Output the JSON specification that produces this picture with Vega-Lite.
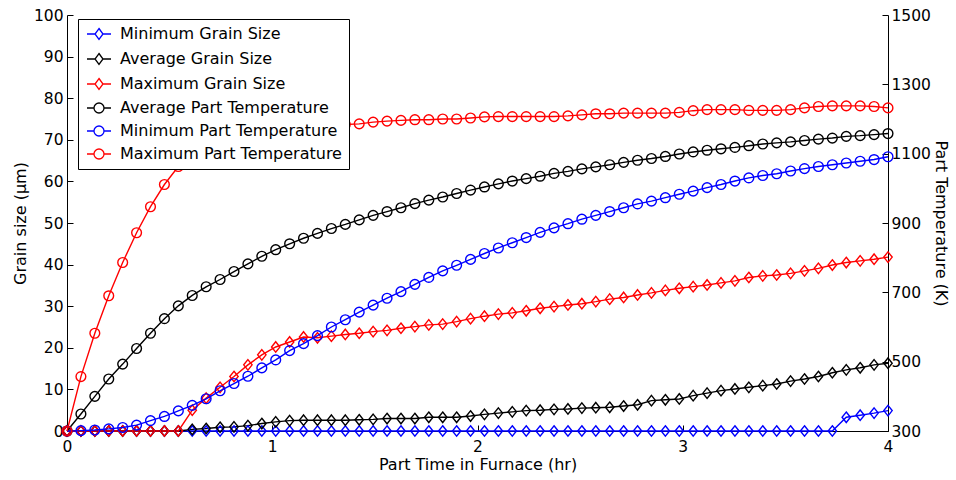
{
  "$schema": "https://vega.github.io/schema/vega-lite/v6.json",
  "width": 821,
  "height": 416,
  "autosize": {"type": "none"},
  "padding": {"left": 67, "top": 15, "right": 68, "bottom": 49},
  "background": "white",
  "config": {
    "view": {"stroke": null},
    "font": "DejaVu Sans",
    "axis": {
      "grid": false,
      "domainColor": "black",
      "tickColor": "black",
      "labelColor": "black",
      "titleColor": "black",
      "labelFont": "DejaVu Sans",
      "titleFont": "DejaVu Sans",
      "labelFontSize": 15.5,
      "titleFontSize": 16,
      "titleFontWeight": "normal",
      "tickSize": -6,
      "domainWidth": 1,
      "tickWidth": 1,
      "labelFlush": false
    }
  },
  "data": {
    "values": [
      {"t": 0, "Minimum Grain Size": 0, "Average Grain Size": 0, "Maximum Grain Size": 0, "Average Part Temperature": 300, "Minimum Part Temperature": 300, "Maximum Part Temperature": 300},
      {"t": 0.0678, "Minimum Grain Size": 0, "Average Grain Size": 0, "Maximum Grain Size": 0, "Average Part Temperature": 349, "Minimum Part Temperature": 301, "Maximum Part Temperature": 457},
      {"t": 0.1356, "Minimum Grain Size": 0, "Average Grain Size": 0, "Maximum Grain Size": 0, "Average Part Temperature": 400, "Minimum Part Temperature": 303, "Maximum Part Temperature": 582},
      {"t": 0.2034, "Minimum Grain Size": 0, "Average Grain Size": 0, "Maximum Grain Size": 0, "Average Part Temperature": 450, "Minimum Part Temperature": 306, "Maximum Part Temperature": 690},
      {"t": 0.2712, "Minimum Grain Size": 0, "Average Grain Size": 0, "Maximum Grain Size": 0, "Average Part Temperature": 493, "Minimum Part Temperature": 310, "Maximum Part Temperature": 786},
      {"t": 0.339, "Minimum Grain Size": 0, "Average Grain Size": 0, "Maximum Grain Size": 0, "Average Part Temperature": 538, "Minimum Part Temperature": 317, "Maximum Part Temperature": 872},
      {"t": 0.4068, "Minimum Grain Size": 0, "Average Grain Size": 0, "Maximum Grain Size": 0, "Average Part Temperature": 582, "Minimum Part Temperature": 330, "Maximum Part Temperature": 947},
      {"t": 0.4746, "Minimum Grain Size": 0, "Average Grain Size": 0, "Maximum Grain Size": 0, "Average Part Temperature": 624, "Minimum Part Temperature": 342, "Maximum Part Temperature": 1011},
      {"t": 0.5424, "Minimum Grain Size": 0, "Average Grain Size": 0, "Maximum Grain Size": 0, "Average Part Temperature": 661, "Minimum Part Temperature": 358, "Maximum Part Temperature": 1063},
      {"t": 0.6102, "Minimum Grain Size": 0, "Average Grain Size": 0.4, "Maximum Grain Size": 5.0, "Average Part Temperature": 691, "Minimum Part Temperature": 374, "Maximum Part Temperature": 1100},
      {"t": 0.678, "Minimum Grain Size": 0, "Average Grain Size": 0.6, "Maximum Grain Size": 7.9, "Average Part Temperature": 716, "Minimum Part Temperature": 393, "Maximum Part Temperature": 1128},
      {"t": 0.7458, "Minimum Grain Size": 0, "Average Grain Size": 0.9, "Maximum Grain Size": 10.5, "Average Part Temperature": 737, "Minimum Part Temperature": 416, "Maximum Part Temperature": 1148},
      {"t": 0.8136, "Minimum Grain Size": 0, "Average Grain Size": 1.0, "Maximum Grain Size": 13.1, "Average Part Temperature": 760, "Minimum Part Temperature": 437, "Maximum Part Temperature": 1162},
      {"t": 0.8814, "Minimum Grain Size": 0, "Average Grain Size": 1.3, "Maximum Grain Size": 15.9, "Average Part Temperature": 782, "Minimum Part Temperature": 458, "Maximum Part Temperature": 1170},
      {"t": 0.9492, "Minimum Grain Size": 0, "Average Grain Size": 1.8, "Maximum Grain Size": 18.3, "Average Part Temperature": 804, "Minimum Part Temperature": 482, "Maximum Part Temperature": 1175},
      {"t": 1.0169, "Minimum Grain Size": 0, "Average Grain Size": 2.2, "Maximum Grain Size": 20.2, "Average Part Temperature": 823, "Minimum Part Temperature": 505, "Maximum Part Temperature": 1178},
      {"t": 1.0847, "Minimum Grain Size": 0, "Average Grain Size": 2.5, "Maximum Grain Size": 21.4, "Average Part Temperature": 840, "Minimum Part Temperature": 532, "Maximum Part Temperature": 1180},
      {"t": 1.1525, "Minimum Grain Size": 0, "Average Grain Size": 2.6, "Maximum Grain Size": 22.6, "Average Part Temperature": 856, "Minimum Part Temperature": 552, "Maximum Part Temperature": 1181},
      {"t": 1.2203, "Minimum Grain Size": 0, "Average Grain Size": 2.6, "Maximum Grain Size": 22.4, "Average Part Temperature": 870, "Minimum Part Temperature": 575, "Maximum Part Temperature": 1182},
      {"t": 1.2881, "Minimum Grain Size": 0, "Average Grain Size": 2.6, "Maximum Grain Size": 22.8, "Average Part Temperature": 884, "Minimum Part Temperature": 600, "Maximum Part Temperature": 1183},
      {"t": 1.3559, "Minimum Grain Size": 0, "Average Grain Size": 2.6, "Maximum Grain Size": 23.2, "Average Part Temperature": 896, "Minimum Part Temperature": 621, "Maximum Part Temperature": 1184},
      {"t": 1.4237, "Minimum Grain Size": 0, "Average Grain Size": 2.7, "Maximum Grain Size": 23.5, "Average Part Temperature": 909, "Minimum Part Temperature": 643, "Maximum Part Temperature": 1186},
      {"t": 1.4915, "Minimum Grain Size": 0, "Average Grain Size": 2.8, "Maximum Grain Size": 23.9, "Average Part Temperature": 922, "Minimum Part Temperature": 663, "Maximum Part Temperature": 1191},
      {"t": 1.5593, "Minimum Grain Size": 0, "Average Grain Size": 3.0, "Maximum Grain Size": 24.2, "Average Part Temperature": 933, "Minimum Part Temperature": 683, "Maximum Part Temperature": 1194},
      {"t": 1.6271, "Minimum Grain Size": 0, "Average Grain Size": 3.0, "Maximum Grain Size": 24.7, "Average Part Temperature": 944, "Minimum Part Temperature": 702, "Maximum Part Temperature": 1196},
      {"t": 1.6949, "Minimum Grain Size": 0, "Average Grain Size": 3.0, "Maximum Grain Size": 25.1, "Average Part Temperature": 956, "Minimum Part Temperature": 723, "Maximum Part Temperature": 1198},
      {"t": 1.7627, "Minimum Grain Size": 0, "Average Grain Size": 3.3, "Maximum Grain Size": 25.5, "Average Part Temperature": 966, "Minimum Part Temperature": 743, "Maximum Part Temperature": 1198},
      {"t": 1.8305, "Minimum Grain Size": 0, "Average Grain Size": 3.3, "Maximum Grain Size": 25.7, "Average Part Temperature": 975, "Minimum Part Temperature": 762, "Maximum Part Temperature": 1200},
      {"t": 1.8983, "Minimum Grain Size": 0, "Average Grain Size": 3.3, "Maximum Grain Size": 26.3, "Average Part Temperature": 985, "Minimum Part Temperature": 778, "Maximum Part Temperature": 1200},
      {"t": 1.9661, "Minimum Grain Size": 0, "Average Grain Size": 3.6, "Maximum Grain Size": 27.0, "Average Part Temperature": 995, "Minimum Part Temperature": 795, "Maximum Part Temperature": 1203},
      {"t": 2.0339, "Minimum Grain Size": 0, "Average Grain Size": 4.0, "Maximum Grain Size": 27.6, "Average Part Temperature": 1004, "Minimum Part Temperature": 812, "Maximum Part Temperature": 1206},
      {"t": 2.1017, "Minimum Grain Size": 0, "Average Grain Size": 4.3, "Maximum Grain Size": 28.1, "Average Part Temperature": 1013, "Minimum Part Temperature": 828, "Maximum Part Temperature": 1207},
      {"t": 2.1695, "Minimum Grain Size": 0, "Average Grain Size": 4.6, "Maximum Grain Size": 28.4, "Average Part Temperature": 1021, "Minimum Part Temperature": 843, "Maximum Part Temperature": 1207},
      {"t": 2.2373, "Minimum Grain Size": 0, "Average Grain Size": 4.9, "Maximum Grain Size": 28.9, "Average Part Temperature": 1028, "Minimum Part Temperature": 858, "Maximum Part Temperature": 1207},
      {"t": 2.3051, "Minimum Grain Size": 0, "Average Grain Size": 5.0, "Maximum Grain Size": 29.5, "Average Part Temperature": 1035, "Minimum Part Temperature": 873, "Maximum Part Temperature": 1207},
      {"t": 2.3729, "Minimum Grain Size": 0, "Average Grain Size": 5.2, "Maximum Grain Size": 29.9, "Average Part Temperature": 1043, "Minimum Part Temperature": 886, "Maximum Part Temperature": 1207},
      {"t": 2.4407, "Minimum Grain Size": 0, "Average Grain Size": 5.3, "Maximum Grain Size": 30.3, "Average Part Temperature": 1049, "Minimum Part Temperature": 898, "Maximum Part Temperature": 1209},
      {"t": 2.5085, "Minimum Grain Size": 0, "Average Grain Size": 5.5, "Maximum Grain Size": 30.6, "Average Part Temperature": 1056, "Minimum Part Temperature": 911, "Maximum Part Temperature": 1212},
      {"t": 2.5763, "Minimum Grain Size": 0, "Average Grain Size": 5.6, "Maximum Grain Size": 31.1, "Average Part Temperature": 1062, "Minimum Part Temperature": 922, "Maximum Part Temperature": 1215},
      {"t": 2.6441, "Minimum Grain Size": 0, "Average Grain Size": 5.7, "Maximum Grain Size": 31.7, "Average Part Temperature": 1068, "Minimum Part Temperature": 933, "Maximum Part Temperature": 1215},
      {"t": 2.7119, "Minimum Grain Size": 0, "Average Grain Size": 6.0, "Maximum Grain Size": 32.1, "Average Part Temperature": 1075, "Minimum Part Temperature": 944, "Maximum Part Temperature": 1217},
      {"t": 2.7797, "Minimum Grain Size": 0, "Average Grain Size": 6.3, "Maximum Grain Size": 32.7, "Average Part Temperature": 1081, "Minimum Part Temperature": 955, "Maximum Part Temperature": 1217},
      {"t": 2.8475, "Minimum Grain Size": 0, "Average Grain Size": 7.3, "Maximum Grain Size": 33.2, "Average Part Temperature": 1086, "Minimum Part Temperature": 963, "Maximum Part Temperature": 1217},
      {"t": 2.9153, "Minimum Grain Size": 0, "Average Grain Size": 7.5, "Maximum Grain Size": 33.8, "Average Part Temperature": 1092, "Minimum Part Temperature": 973, "Maximum Part Temperature": 1217},
      {"t": 2.9831, "Minimum Grain Size": 0, "Average Grain Size": 7.7, "Maximum Grain Size": 34.3, "Average Part Temperature": 1099, "Minimum Part Temperature": 983, "Maximum Part Temperature": 1219},
      {"t": 3.0508, "Minimum Grain Size": 0, "Average Grain Size": 8.5, "Maximum Grain Size": 34.7, "Average Part Temperature": 1105, "Minimum Part Temperature": 992, "Maximum Part Temperature": 1224},
      {"t": 3.1186, "Minimum Grain Size": 0, "Average Grain Size": 9.1, "Maximum Grain Size": 35.1, "Average Part Temperature": 1110, "Minimum Part Temperature": 1002, "Maximum Part Temperature": 1227},
      {"t": 3.1864, "Minimum Grain Size": 0, "Average Grain Size": 9.7, "Maximum Grain Size": 35.6, "Average Part Temperature": 1114, "Minimum Part Temperature": 1011, "Maximum Part Temperature": 1227},
      {"t": 3.2542, "Minimum Grain Size": 0, "Average Grain Size": 10.1, "Maximum Grain Size": 36.1, "Average Part Temperature": 1118, "Minimum Part Temperature": 1021, "Maximum Part Temperature": 1227},
      {"t": 3.322, "Minimum Grain Size": 0, "Average Grain Size": 10.5, "Maximum Grain Size": 36.9, "Average Part Temperature": 1123, "Minimum Part Temperature": 1030, "Maximum Part Temperature": 1225},
      {"t": 3.3898, "Minimum Grain Size": 0, "Average Grain Size": 10.9, "Maximum Grain Size": 37.3, "Average Part Temperature": 1128, "Minimum Part Temperature": 1037, "Maximum Part Temperature": 1225},
      {"t": 3.4576, "Minimum Grain Size": 0, "Average Grain Size": 11.3, "Maximum Grain Size": 37.5, "Average Part Temperature": 1131, "Minimum Part Temperature": 1042, "Maximum Part Temperature": 1225},
      {"t": 3.5254, "Minimum Grain Size": 0, "Average Grain Size": 12.0, "Maximum Grain Size": 37.9, "Average Part Temperature": 1134, "Minimum Part Temperature": 1050, "Maximum Part Temperature": 1227},
      {"t": 3.5932, "Minimum Grain Size": 0, "Average Grain Size": 12.5, "Maximum Grain Size": 38.5, "Average Part Temperature": 1138, "Minimum Part Temperature": 1057, "Maximum Part Temperature": 1232},
      {"t": 3.661, "Minimum Grain Size": 0, "Average Grain Size": 13.1, "Maximum Grain Size": 39.1, "Average Part Temperature": 1142, "Minimum Part Temperature": 1063, "Maximum Part Temperature": 1236},
      {"t": 3.7288, "Minimum Grain Size": 0, "Average Grain Size": 14.0, "Maximum Grain Size": 39.9, "Average Part Temperature": 1145, "Minimum Part Temperature": 1068, "Maximum Part Temperature": 1238},
      {"t": 3.7966, "Minimum Grain Size": 3.3, "Average Grain Size": 14.7, "Maximum Grain Size": 40.5, "Average Part Temperature": 1150, "Minimum Part Temperature": 1073, "Maximum Part Temperature": 1238},
      {"t": 3.8644, "Minimum Grain Size": 3.8, "Average Grain Size": 15.2, "Maximum Grain Size": 40.9, "Average Part Temperature": 1152, "Minimum Part Temperature": 1078, "Maximum Part Temperature": 1238},
      {"t": 3.9322, "Minimum Grain Size": 4.3, "Average Grain Size": 15.9, "Maximum Grain Size": 41.3, "Average Part Temperature": 1155, "Minimum Part Temperature": 1083, "Maximum Part Temperature": 1236},
      {"t": 4.0, "Minimum Grain Size": 4.9, "Average Grain Size": 16.3, "Maximum Grain Size": 41.8, "Average Part Temperature": 1158, "Minimum Part Temperature": 1091, "Maximum Part Temperature": 1232}
    ]
  },
  "encoding": {
    "x": {
      "field": "t",
      "type": "quantitative",
      "scale": {"domain": [0, 4], "nice": false},
      "axis": {
        "title": "Part Time in Furnace (hr)",
        "values": [0, 1, 2, 3, 4],
        "format": "d",
        "labelPadding": 14,
        "titlePadding": 2
      }
    },
    "color": {
      "field": "series",
      "type": "nominal",
      "scale": {
        "domain": ["Minimum Grain Size", "Average Grain Size", "Maximum Grain Size", "Average Part Temperature", "Minimum Part Temperature", "Maximum Part Temperature"],
        "range": ["#0000ff", "#000000", "#ff0000", "#000000", "#0000ff", "#ff0000"]
      },
      "legend": {
        "title": null,
        "orient": "none",
        "legendX": 11,
        "legendY": 4,
        "direction": "vertical",
        "fillColor": "white",
        "strokeColor": "black",
        "padding": 7,
        "cornerRadius": 0,
        "labelFont": "DejaVu Sans",
        "labelFontSize": 16,
        "labelColor": "black",
        "labelLimit": 400,
        "symbolSize": 100,
        "symbolOffset": 6,
        "labelOffset": 13,
        "rowPadding": 7,
        "encode": {
          "symbols": {
            "update": {
              "shape": {"signal": "indexof(datum.value, 'Grain') >= 0 ? 'M-2.4,0L-0.8,0M0.8,0L2.4,0M0,-1.1L0.8,0L0,1.1L-0.8,0Z' : 'M-2.4,0L-1,0M1,0L2.4,0M1,0A1,1,0,1,1,-1,0A1,1,0,1,1,1,0'"},
              "fill": {"value": "transparent"},
              "stroke": {"scale": "color", "field": "value"},
              "strokeWidth": {"value": 1.3}
            }
          }
        }
      }
    }
  },
  "layer": [
    {
      "transform": [{"fold": ["Minimum Grain Size", "Average Grain Size", "Maximum Grain Size"], "as": ["series", "value"]}],
      "encoding": {
        "y": {
          "field": "value",
          "type": "quantitative",
          "scale": {"domain": [0, 100], "nice": false},
          "axis": {
            "orient": "left",
            "title": "Grain size (µm)",
            "values": [0, 10, 20, 30, 40, 50, 60, 70, 80, 90, 100],
            "format": "d",
            "labelPadding": 10,
            "titlePadding": 5
          }
        }
      },
      "layer": [
        {"mark": {"type": "line", "strokeWidth": 1.4}},
        {"mark": {"type": "point", "filled": false, "strokeWidth": 1.4, "size": 110, "shape": "M0,-1L0.8,0L0,1L-0.8,0Z", "opacity": 1}}
      ]
    },
    {
      "transform": [{"fold": ["Average Part Temperature", "Minimum Part Temperature", "Maximum Part Temperature"], "as": ["series", "value"]}],
      "encoding": {
        "y": {
          "field": "value",
          "type": "quantitative",
          "scale": {"domain": [300, 1500], "nice": false},
          "axis": {
            "orient": "right",
            "title": "Part Temperature (K)",
            "values": [300, 500, 700, 900, 1100, 1300, 1500],
            "format": "d",
            "labelPadding": 9,
            "titlePadding": 2
          }
        }
      },
      "layer": [
        {"mark": {"type": "line", "strokeWidth": 1.4}},
        {"mark": {"type": "point", "filled": false, "strokeWidth": 1.4, "size": 95, "shape": "circle", "opacity": 1}}
      ]
    }
  ],
  "resolve": {"scale": {"y": "independent"}}
}
